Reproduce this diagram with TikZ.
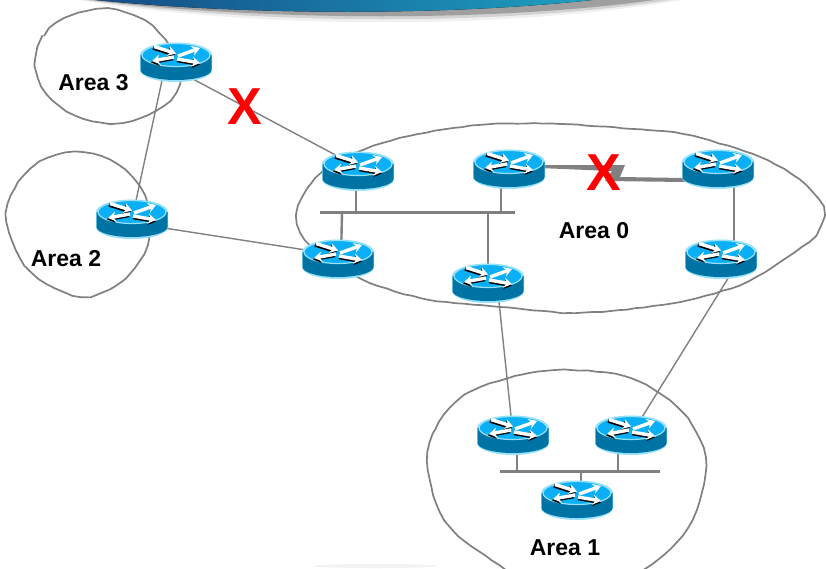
\documentclass[tikz,border=0pt]{standalone}
\usepackage{fontspec}
\setmainfont{Liberation Sans}
\usepackage{tikz}
\usetikzlibrary{arrows.meta, positioning, calc, decorations.pathmorphing}
\definecolor{colLine}{RGB}{128, 128, 128}
\definecolor{colTop}{RGB}{10, 175, 245}
\definecolor{colRim}{RGB}{150, 225, 250}
\definecolor{colBody}{RGB}{0, 115, 165}
\definecolor{colCross}{RGB}{255, 0, 0}
\definecolor{colBannerL}{RGB}{20, 70, 130}
\definecolor{colBannerR}{RGB}{30, 165, 195}

\tikzset{
    routerbox/.style={minimum width=70pt, minimum height=38pt, inner sep=0pt},
    arealine/.style={draw=colLine, line width=1.7pt, decorate, decoration={random steps, segment length=9pt, amplitude=0.5pt}},
    link/.style={draw=colLine, line width=1.4pt},
    drop/.style={draw=colLine, line width=2.4pt},
    busbar/.style={fill=colLine, inner sep=0pt, minimum height=3pt},
    arealabel/.style={font=\fontsize{23}{26}\selectfont\bfseries},
    crossmark/.style={font=\fontsize{52}{56}\selectfont\bfseries, text=colCross, inner sep=0pt},
    wing/.style={line width=3.4pt, -{Stealth[length=8pt,width=10pt]}},
    routericon/.pic={
        \fill[colRim] (-36,-7) -- (-36,8) arc[start angle=180, end angle=0, x radius=36, y radius=12]
            -- (36,-7) arc[start angle=0, end angle=-180, x radius=36, y radius=12.5] -- cycle;
        \fill[colBody] (-35.5,-7) -- (-35.5,8) arc[start angle=180, end angle=0, x radius=35.5, y radius=10]
            -- (35.5,-7) -- cycle;
        \fill[colTop, draw=colRim, line width=1.2pt] (0,-7) ellipse[x radius=34, y radius=11.5];
        \draw[wing, black] (-23,-14) -- (-1,-7);
        \draw[wing, white] (-22,-15.5) -- (0,-8.5);
        \draw[wing, white] (2,-6) -- (24,-14);
        \draw[wing, black] (-3,-3.5) -- (-25,0.5);
        \draw[wing, white] (-2,-5) -- (-24,-1);
        \draw[wing, black] (1,-1.5) -- (24,2.5);
        \draw[wing, white] (1,-3) -- (24,1);
    }
}

\begin{document}
\begin{tikzpicture}[x=1pt, y=-1pt]
    \useasboundingbox (0,0) rectangle (826,568);
    \fill[white] (0,0) rectangle (826,568);

    % --- Banner ---
    \fill[gray!12] (55,-4) .. controls (250,31) and (520,31) .. (705,-4) -- cycle;
    \fill[gray!35] (58,-4) .. controls (250,27) and (520,27) .. (695,-4) -- cycle;
    \fill[gray!75] (60,-4) .. controls (250,23) and (520,23) .. (680,-4) -- cycle;
    \fill[left color=colBannerL, right color=colBannerR] (60,-4) .. controls (230,17) and (470,17) .. (625,-4) -- cycle;
    \fill[gray!10] (375,566) ellipse[x radius=62, y radius=2];

    % --- Areas ---
    \draw[arealine] plot[smooth cycle, tension=0.6] coordinates {(36,65) (44,36) (70,16) (108,9) (145,21) (170,47) (180,75) (170,100) (140,118) (110,123) (75,115) (47,94)};
    \draw[arealine] plot[smooth cycle, tension=0.6] coordinates {(7,222) (14,190) (40,162) (75,152) (110,160) (135,180) (148,208) (147,245) (125,278) (90,296) (55,288) (25,265)};
    \draw[arealine] plot[smooth cycle, tension=0.5] coordinates {(297,215) (310,185) (340,160) (400,138) (480,125) (560,124) (647,130) (693,136) (760,157) (800,180) (823,207) (815,235) (780,262) (740,285) (680,302) (620,310) (570,313) (500,307) (430,300) (370,283) (330,260) (305,240)};
    \draw[arealine] plot[smooth cycle, tension=0.6] coordinates {(428,470) (435,430) (465,395) (520,375) (570,370) (630,378) (675,405) (700,440) (705,475) (692,520) (660,558) (610,585) (540,585) (480,552) (445,520)};

    % --- Routers ---
    \node[routerbox] (rThree) at (176,62) {};
    \node[routerbox] (rTwo) at (132,219) {};
    \node[routerbox] (rAbrC) at (358,171) {};
    \node[routerbox] (rAbrD) at (338,259) {};
    \node[routerbox] (rZeroE) at (509,169) {};
    \node[routerbox] (rZeroF) at (718,169) {};
    \node[routerbox] (rZeroG) at (721,259) {};
    \node[routerbox] (rZeroH) at (488,283) {};
    \node[routerbox] (rOneI) at (513,435) {};
    \node[routerbox] (rOneJ) at (631,435) {};
    \node[routerbox] (rOneK) at (577,500) {};

    % Bus
    \node[busbar, minimum width=195pt] (busZero) at (417.5,212) {};
    \node[busbar, minimum width=160pt] (busOne) at (580,471) {};

    % --- Links ---
    \draw[link] ($(rThree)+(0,8)$) -- ($(rAbrC)+(0,-4)$);
    \draw[link] ($(rThree)+(-10,0)$) -- ($(rTwo.center)$);
    \draw[link] ($(rTwo)+(0,4)$) -- ($(rAbrD)+(0,-4)$);
    \draw[link] ($(rZeroH)+(9,0)$) -- (rOneI.center);
    \draw[link] ($(rZeroG)+(19,0)$) -- (rOneJ.center);
    \draw[drop] ($(rAbrC)+(-2,0)$) -- ($(rAbrC |- busZero)+(-2,0)$);
    \draw[drop] ($(rAbrD)+(3,0)$) -- ($(rAbrD |- busZero)+(4,0)$);
    \draw[drop] ($(rZeroE)+(-8,0)$) -- ($(rZeroE |- busZero)+(-8,0)$);
    \draw[drop] (rZeroH.center) -- (rZeroH |- busZero);
    \draw[drop] ($(rZeroF)+(16,0)$) -- ($(rZeroG)+(13,0)$);
    \draw[drop] ($(rOneI)+(4,0)$) -- ($(rOneI |- busOne)+(4,0)$);
    \draw[drop] ($(rOneJ)+(-13,0)$) -- ($(rOneJ |- busOne)+(-13,0)$);
    \draw[drop] ($(rOneK)+(4,0)$) -- ($(rOneK |- busOne)+(4,0)$);
    % Broken link
    \fill[colLine] (rZeroE) ++(30,-4) -- ++(86,0) -- ++(-5,12) -- ++(65,1) -- ++(0,4)
        -- ++(-80,-1) -- ++(7,-10) -- ++(-73,-3) -- cycle;

    % Router icons on top
    \foreach \r in {rThree, rTwo, rAbrC, rAbrD, rZeroE, rZeroF, rZeroG, rZeroH, rOneI, rOneJ, rOneK} {
        \path (\r) pic {routericon};
    }

    % --- Labels ---
    \node[arealabel] (lblThree) at (93.5,83) {Area 3};
    \node[arealabel] (lblTwo) at (66,259) {Area 2};
    \node[arealabel] (lblZero) at (594,231) {Area 0};
    \node[arealabel] (lblOne) at (565,548) {Area 1};
    \node[crossmark] (xLeft) at (245,107) {X};
    \node[crossmark] (xRight) at (604,173) {X};
\end{tikzpicture}
\end{document}
